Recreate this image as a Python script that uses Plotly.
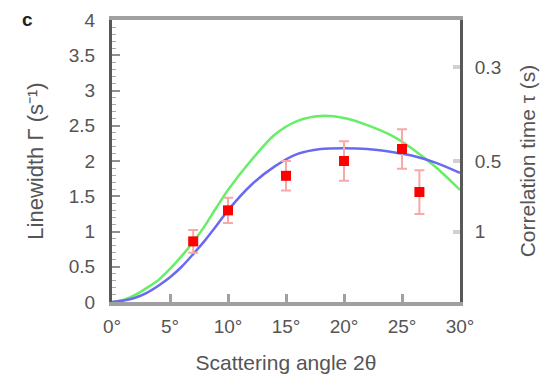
import plotly.graph_objects as go

# data points
angles = [7, 10, 15, 20, 25, 26.5]
linewidth = [0.86, 1.30, 1.79, 2.00, 2.17, 1.56]
errors = [0.16, 0.18, 0.21, 0.28, 0.28, 0.31]

# model curves
curve_x = [0, 1, 2, 3, 4, 5, 6, 7, 8, 9, 10, 12, 14, 16, 18, 20, 22, 24, 26, 28, 30]
green_y = [0, 0.03, 0.10, 0.20, 0.31, 0.47, 0.65, 0.85, 1.08, 1.34, 1.59, 2.01, 2.37, 2.57, 2.64, 2.61, 2.51, 2.37, 2.16, 1.90, 1.59]
blue_y = [0, 0.02, 0.06, 0.13, 0.23, 0.35, 0.50, 0.68, 0.87, 1.08, 1.30, 1.66, 1.92, 2.10, 2.17, 2.18, 2.17, 2.13, 2.07, 1.97, 1.83]

x_ticks = [0, 5, 10, 15, 20, 25, 30]
x_ticktext = ["0°", "5°", "10°", "15°", "20°", "25°", "30°"]
y_ticks = [0, 0.5, 1, 1.5, 2, 2.5, 3, 3.5, 4]
y_ticktext = ["0", "0.5", "1", "1.5", "2", "2.5", "3", "3.5", "4"]
tau_ticks = [0.3, 0.5, 1]
tau_ticktext = ["0.3", "0.5", "1"]

fig = go.Figure()
fig.add_trace(go.Scatter(x=curve_x, y=green_y, mode="lines", line=dict(color="#66ee66", width=2.5, shape="spline", smoothing=0.8), showlegend=False))
fig.add_trace(go.Scatter(x=curve_x, y=blue_y, mode="lines", line=dict(color="#6a6af0", width=2.5, shape="spline", smoothing=0.8), showlegend=False))
fig.add_trace(go.Scatter(x=angles, y=linewidth, mode="markers",
                         marker=dict(symbol="square", color="#ff0000", size=10),
                         error_y=dict(type="data", array=errors, color="#f7a8a8", thickness=2, width=5),
                         showlegend=False))
# invisible trace to activate right axis
fig.add_trace(go.Scatter(x=[0], y=[0], yaxis="y2", mode="markers", marker=dict(opacity=0), showlegend=False, hoverinfo="skip"))

font_col = "#555555"
fig.update_layout(
    width=541, height=374,
    margin=dict(l=112, r=81, t=20, b=72),
    paper_bgcolor="white", plot_bgcolor="white",
    font=dict(family="Liberation Sans, Arial", size=19, color=font_col),
    xaxis=dict(range=[0, 30], tickvals=x_ticks, ticktext=x_ticktext, automargin=False,
               showgrid=False, zeroline=False, showline=True, linecolor="#a0a0a0", linewidth=4, mirror=True,
               ticks="inside", ticklen=8, tickwidth=3, tickcolor="#a0a0a0", ticklabelstandoff=4,
               title=dict(text="Scattering angle 2θ", standoff=22, font=dict(size=21))),
    yaxis=dict(range=[0, 4], tickvals=y_ticks, ticktext=y_ticktext, automargin=False,
               showgrid=False, zeroline=False, showline=True, linecolor="#585858", linewidth=3,
               ticks="inside", ticklen=8, tickwidth=2, tickcolor="#909090", ticklabelstandoff=10,
               minor=dict(dtick=0.1, ticks="inside", ticklen=4, tickcolor="#aaaaaa", tickwidth=1),
               title=dict(text="Linewidth Γ (s⁻¹)", standoff=20, font=dict(size=22))),
    yaxis2=dict(range=[0, 4], overlaying="y", side="right", automargin=False,
                tickvals=[1 / t for t in tau_ticks], ticktext=tau_ticktext,
                showgrid=False, zeroline=False, showline=True, linecolor="#585858", linewidth=3,
                ticks="inside", ticklen=7, tickwidth=4, tickcolor="#d0d0d0", ticklabelstandoff=8,
                title=dict(text="Correlation time τ (s)", standoff=21, font=dict(size=21))),
    annotations=[dict(text="<b>c</b>", showarrow=False)],
)
fig.layout.annotations[0].update(xref="paper", yref="paper", x=(27 - 112) / 348, y=1 + (20 - 19) / 282,
                                 xanchor="center", yanchor="middle", font=dict(size=19, color="#222222"))
fig.write_html("out.html")
